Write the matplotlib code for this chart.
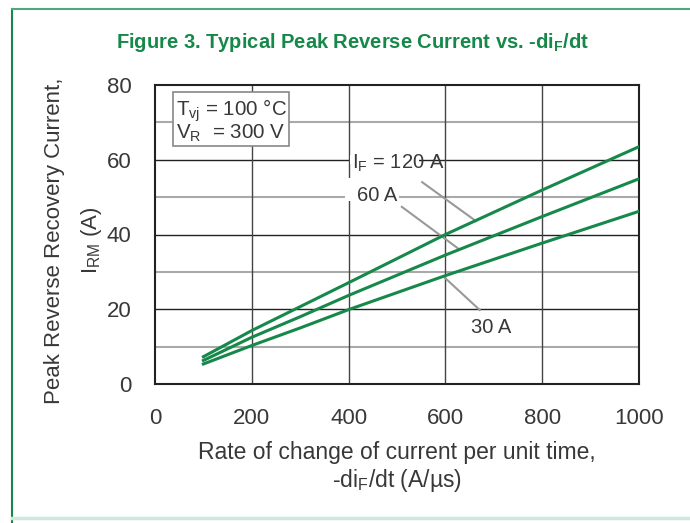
import numpy as np
import matplotlib
matplotlib.use('Agg')
import matplotlib.pyplot as plt
from matplotlib.lines import Line2D
from matplotlib.patches import Rectangle

# values
didt = [100, 200, 300, 400, 600, 800, 1000]
irm_120a = [7.3, 14.3, 20.7, 27.1, 40.0, 51.9, 63.5]
irm_60a = [6.3, 12.5, 18.0, 23.7, 34.5, 44.8, 54.9]
irm_30a = [5.35, 10.3, 15.0, 19.9, 29.0, 37.7, 46.2]

GREEN = '#16884a'
TXT = '#383838'

plt.rcParams['font.family'] = ['Liberation Sans', 'DejaVu Sans']
plt.rcParams['mathtext.fontset'] = 'custom'
plt.rcParams['mathtext.rm'] = 'Liberation Sans'
plt.rcParams['mathtext.it'] = 'Liberation Sans:italic'
plt.rcParams['mathtext.bf'] = 'Liberation Sans:bold'

fig = plt.figure(figsize=(6.9, 5.23), dpi=100)
ax = fig.add_axes([155 / 690, 1 - 384 / 523, 484 / 690, 299 / 523])

# grid: dark major lines, light minor horizontals
for y in [10, 30, 50, 70]:
    ax.axhline(y, color='#aaaaaa', lw=1.5, zorder=1)
for y in [20, 40, 60]:
    ax.axhline(y, color='#222222', lw=1.0, zorder=1)
for x in [200, 400, 600, 800]:
    ax.axvline(x, color='#444444', lw=1.0, zorder=1)

# white knock-outs behind the curve labels (as in the original artwork)
ax.add_patch(Rectangle((403, 58.8), 142, 2.4, fc='white', ec='none', zorder=1.5))
ax.add_patch(Rectangle((392, 49.0), 112, 6.1, fc='white', ec='none', zorder=1.5))

for vals in (irm_120a, irm_60a, irm_30a):
    ax.plot(didt, vals, color=GREEN, lw=2.2, zorder=3)

ax.set_xlim(0, 1000)
ax.set_ylim(0, 80)
ax.set_xticks([0, 200, 400, 600, 800, 1000])
ax.set_yticks([0, 20, 40, 60, 80])
ax.tick_params(length=0, labelsize=16, labelcolor=TXT, pad=17)
for s in ax.spines.values():
    s.set_linewidth(1.5)
    s.set_color('#222222')

# condition box
ax.text(42.5, 70.5, '$\\mathrm{T_{vj}}$ = 100 °C\n$\\mathrm{V_R}$  = 300 V', fontsize=14.8,
        color=TXT, ha='left', va='center', linespacing=0.95, zorder=5,
        bbox=dict(boxstyle='square,pad=0.12', fc='white', ec='#888888', lw=1.2))

# curve labels with leader lines
ax.text(407, 59.1, '$\\mathrm{I_F}$ = 120 A', fontsize=14.5, color=TXT, ha='left', va='center', zorder=5)
ax.text(417, 50.4, '60 A', fontsize=14.5, color=TXT, ha='left', va='center', zorder=5)
ax.text(653, 15.0, '30 A', fontsize=14.5, color=TXT, ha='left', va='center', zorder=5)
ax.plot([552, 663], [54.0, 43.6], color='#999999', lw=1.5, zorder=2)
ax.plot([510, 628], [47.4, 36.1], color='#999999', lw=1.5, zorder=2)
ax.plot([599, 671], [28.4, 19.8], color='#999999', lw=1.5, zorder=2)

# axis labels
fig.text(397 / 690, 1 - 452 / 523, 'Rate of change of current per unit time,',
         fontsize=16.5, color=TXT, ha='center', va='center')
fig.text(397 / 690, 1 - 480 / 523, '-di$_\\mathrm{F}$/dt (A/µs)',
         fontsize=16.5, color=TXT, ha='center', va='center')
fig.text(55 / 690, 1 - 241 / 523, 'Peak Reverse Recovery Current,',
         fontsize=16, color=TXT, ha='center', va='center', rotation=90)
fig.text(92 / 690, 1 - 240 / 523, '$\\mathrm{I_{RM}}$ (A)',
         fontsize=16, color=TXT, ha='center', va='center', rotation=90)

# title
fig.text(353 / 690, 1 - 43 / 523, 'Figure 3. Typical Peak Reverse Current vs. -di$_\\mathbf{F}$/dt',
         fontsize=14.5, color=GREEN, fontweight='bold', ha='center', va='center')

# frame around the figure
fig.add_artist(Line2D([12 / 690, 12 / 690], [0, 1 - 9 / 523], color=GREEN, lw=1.5))
fig.add_artist(Line2D([12 / 690, 1], [1 - 9 / 523, 1 - 9 / 523], color='#4fa77a', lw=1.5))
fig.add_artist(Line2D([12 / 690, 1], [1 - 518 / 523, 1 - 518 / 523], color='#cfe8dc', lw=2.5))

fig.savefig('out.png', dpi=100)
